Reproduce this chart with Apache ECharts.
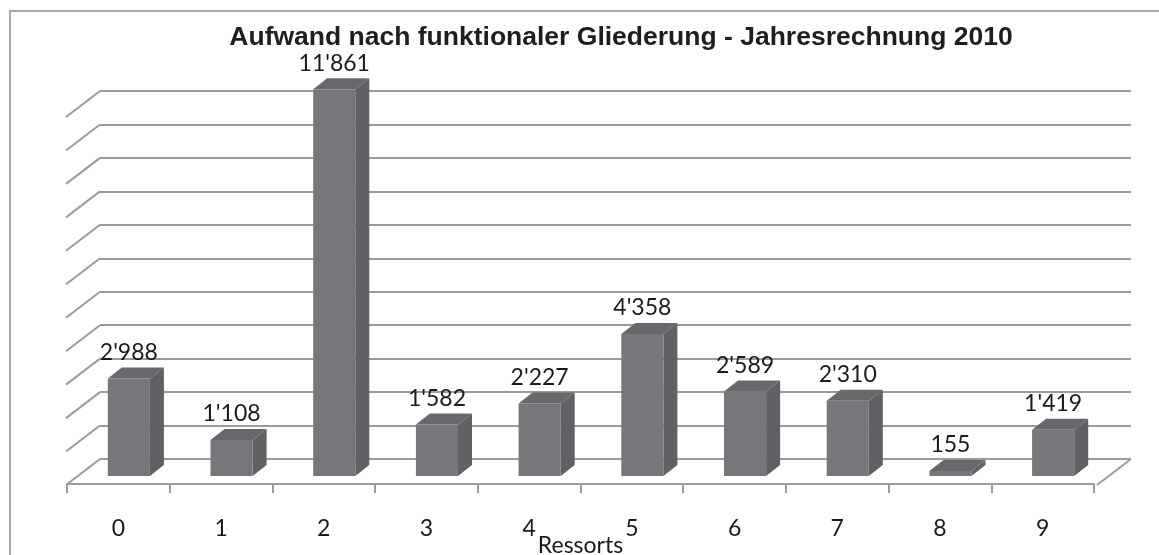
<!DOCTYPE html>
<html><head><meta charset="utf-8">
<script src="https://cdn.jsdelivr.net/npm/echarts@6/dist/echarts.min.js"></script>
<style>html,body{margin:0;padding:0;background:#fff}#c{width:1159px;height:555px}</style>
</head><body><div id="c"></div>
<script>
// ---- data ----
const categories = ['0','1','2','3','4','5','6','7','8','9'];
const values = [2988, 1108, 11861, 1582, 2227, 4358, 2589, 2310, 155, 1419];
const wallTicks = [0,1000,2000,3000,4000,5000,6000,7000,8000,9000,10000,11000];
const titleText = 'Aufwand nach funktionaler Gliederung - Jahresrechnung 2010';
const axisTitle = 'Ressorts';

function fmt(v){ return String(v).replace(/\B(?=(\d{3})+(?!\d))/g, "'"); }

const FLOOR_DEPTH = [-34, 26];   // from back wall to front edge (px)
const BAR_DEPTH = [14, -11];     // bar depth (px)
const BAR_W = 0.41;
const GRID_COL = '#9b9b9b';
const LABEL_FONT = '23px Lato';
const SCALE = 0.0326;

const chart = echarts.init(document.getElementById('c'), null, {renderer: 'canvas'});

const option = {
  animation: false,
  backgroundColor: '#fff',
  graphic: [
    {type: 'rect', shape: {x: 10, y: 11, width: 1175, height: 580}, style: {fill: 'none', stroke: '#a8a8a8', lineWidth: 2}, z: 0},
    {type: 'text', x: 621, y: 38, style: {text: titleText, font: 'bold 26.5px "Liberation Sans"', fill: '#1e1e1e', textAlign: 'center', textVerticalAlign: 'middle', align: 'center', verticalAlign: 'middle'}, z: 10}
  ],
  grid: [
    {left: 100, top: 91, width: 1031, height: 368, containLabel: false, outerBoundsMode: 'none'},          // back wall
    {left: 77.5, top: 476 - 12000 * SCALE, width: 1027, height: 12000 * SCALE, containLabel: false, outerBoundsMode: 'none'}, // bar front plane
    {left: 67, top: 100, width: 1027, height: 384, containLabel: false, outerBoundsMode: 'none'}          // front floor edge
  ],
  xAxis: [
    {gridIndex: 0, type: 'value', min: 0, max: 1, show: false},
    {gridIndex: 1, type: 'category', data: categories, show: false},
    {gridIndex: 2, type: 'category', data: categories, boundaryGap: true,
      axisLine: {show: true, onZero: false, lineStyle: {color: GRID_COL, width: 2}},
      axisTick: {show: true, length: 9, interval: 0, lineStyle: {color: GRID_COL, width: 2}},
      axisLabel: {interval: 0, margin: 33, fontFamily: 'Lato', fontSize: 23, color: '#1a1a1a'},
      name: axisTitle, nameLocation: 'middle', nameGap: 50, nameMoveOverlap: false,
      nameTextStyle: {fontFamily: 'Lato', fontSize: 23, color: '#1a1a1a'}}
  ],
  yAxis: [
    {gridIndex: 0, type: 'value', min: 0, max: 11000, interval: 1000,
      axisLine: {show: false}, axisTick: {show: false}, axisLabel: {show: false},
      splitLine: {show: true, lineStyle: {color: GRID_COL, width: 2}}},
    {gridIndex: 1, type: 'value', min: 0, max: 12000, show: false, splitLine: {show: false}},
    {gridIndex: 2, type: 'value', min: 0, max: 1, show: false, splitLine: {show: false}}
  ],
  series: [
    { // side-wall depth lines at each wall gridline, plus right floor edge
      type: 'custom', xAxisIndex: 0, yAxisIndex: 0, z: 1, silent: true,
      data: wallTicks.map(t => [0, t]),
      renderItem: function (params, api) {
        const p = api.coord([api.value(0), api.value(1)]);
        const children = [{type: 'line', shape: {x1: p[0], y1: p[1], x2: p[0] + FLOOR_DEPTH[0], y2: p[1] + FLOOR_DEPTH[1]},
          style: {stroke: GRID_COL, lineWidth: 2}}];
        if (api.value(1) === 0) {
          const q = api.coord([1, 0]);
          children.push({type: 'line', shape: {x1: q[0], y1: q[1], x2: q[0] + FLOOR_DEPTH[0], y2: q[1] + FLOOR_DEPTH[1]},
            style: {stroke: GRID_COL, lineWidth: 2}});
        }
        return {type: 'group', children: children};
      }
    },
    { // 3D bars
      type: 'custom', xAxisIndex: 1, yAxisIndex: 1, z: 3,
      data: values.map((v, i) => [i, v]),
      renderItem: function (params, api) {
        const i = api.value(0), v = api.value(1);
        const top = api.coord([i, v]);
        const base = api.coord([i, 0]);
        const bw = api.size([1, 0])[0] * BAR_W;
        const x0 = top[0] - bw / 2, x1 = top[0] + bw / 2, yT = top[1], yB = base[1];
        const dx = BAR_DEPTH[0], dy = BAR_DEPTH[1];
        return {type: 'group', children: [
          {type: 'polygon', shape: {points: [[x1, yT], [x1 + dx, yT + dy], [x1 + dx, yB + dy], [x1, yB]]}, style: {fill: '#606164'}},
          {type: 'polygon', shape: {points: [[x0, yT], [x0 + dx, yT + dy], [x1 + dx, yT + dy], [x1, yT]]}, style: {fill: '#67686b'}},
          {type: 'rect', shape: {x: x0, y: yT, width: bw, height: yB - yT}, style: {fill: '#76777a'}},
          {type: 'text', x: top[0], y: yT - 26, style: {text: fmt(v), font: LABEL_FONT, fill: '#1a1a1a',
            textAlign: 'center', textVerticalAlign: 'middle', align: 'center', verticalAlign: 'middle'}}
        ]};
      }
    }
  ]
};
chart.setOption(option);
</script>
</body></html>
